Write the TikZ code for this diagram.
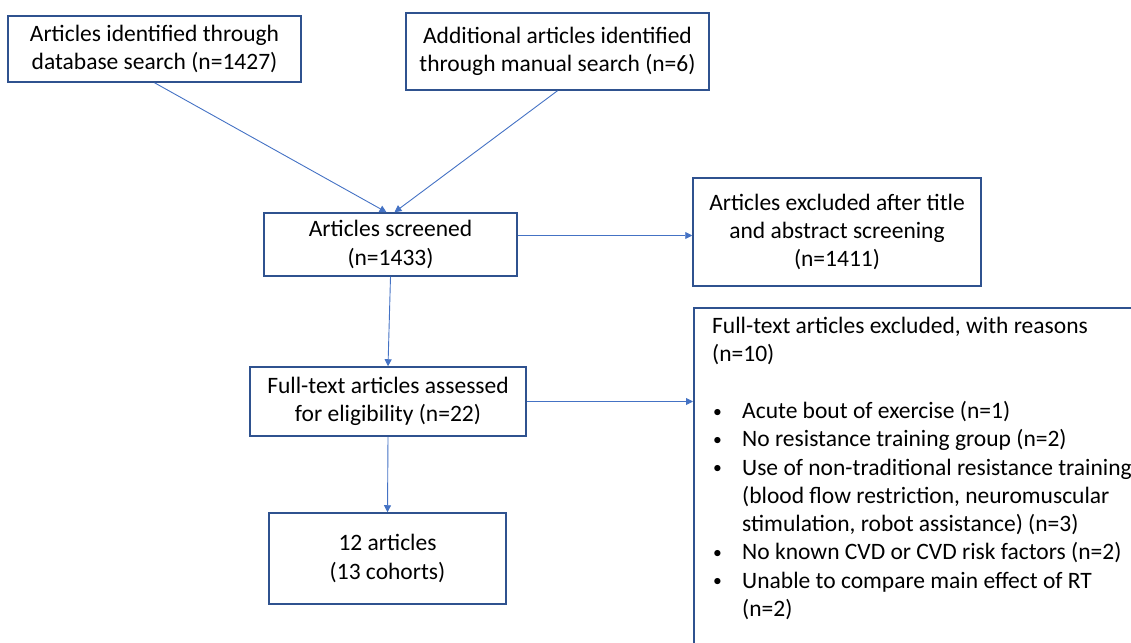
\documentclass[tikz,border=0pt]{standalone}
\usepackage{fontspec}
\setmainfont{Carlito}
\usetikzlibrary{arrows.meta,calc}
\definecolor{boxblue}{RGB}{47,82,143}
\definecolor{arrowblue}{RGB}{68,114,196}
\newcommand{\bul}{\makebox[30bp][l]{\hspace*{1bp}\raisebox{1.5bp}{\scalebox{0.75}{\textbullet}}}}
\newcommand{\ind}{\hspace*{30bp}}
\begin{document}
\begin{tikzpicture}[x=1bp,y=-1bp,
  txt/.style={inner sep=0pt,font=\fontsize{23.6}{28.4}\selectfont},
  box/.style={txt,draw=boxblue,line width=1.5bp,align=center},
  conn/.style={draw=arrowblue,line width=0.9bp,-{Triangle[length=7bp,width=7bp]}}]
\useasboundingbox (0,0) rectangle (1131,643);
\node[box,minimum width=293bp,minimum height=66bp] (A) at (154.5,49) {Articles identified through\\database search (n=1427)};
\node[box,minimum width=303bp,minimum height=77bp] (B) at (557.5,51.5) {Additional articles identified\\through manual search (n=6)};
\node[box,minimum width=253bp,minimum height=63bp] (C) at (390.5,244.5) {Articles screened\\(n=1433)};
\node[box,minimum width=288bp,minimum height=108bp] (D) at (837,232) {Articles excluded after title\\and abstract screening\\(n=1411)};
\node[box,minimum width=276bp,minimum height=69bp] (E) at (388,401.5) {Full-text articles assessed\\for eligibility (n=22)};
\node[box,minimum width=237bp,minimum height=91bp] (F) at (387.5,558.5) {12 articles\\(13 cohorts)};
\node[draw=boxblue,line width=1.5bp,inner sep=0pt,anchor=north west,minimum width=500bp,minimum height=400bp] (G) at (693,307) {};
\node[txt,align=left,anchor=north west] (Gt) at ($(G.north west)+(19,10)$) {Full-text articles excluded, with reasons\\
(n=10)\\[28.4bp]
\bul Acute bout of exercise (n=1)\\
\bul No resistance training group (n=2)\\
\bul Use of non-traditional resistance training\\
\ind (blood flow restriction, neuromuscular\\
\ind stimulation, robot assistance) (n=3)\\
\bul No known CVD or CVD risk factors (n=2)\\
\bul Unable to compare main effect of RT\\
\ind (n=2)};
\draw[conn] (A.south) -- ($(C.north)+(-4,0)$);
\draw[conn] (B.south) -- ($(C.north)+(4,0)$);
\draw[conn] ($(C.east)+(0,-9)$) coordinate (c1) -- (c1 -| D.west);
\draw[conn] (C.south) -- (E.north);
\draw[conn] (E.east) -- (E.east -| G.west);
\draw[conn] (E.south) -- (F.north);
\end{tikzpicture}
\end{document}
